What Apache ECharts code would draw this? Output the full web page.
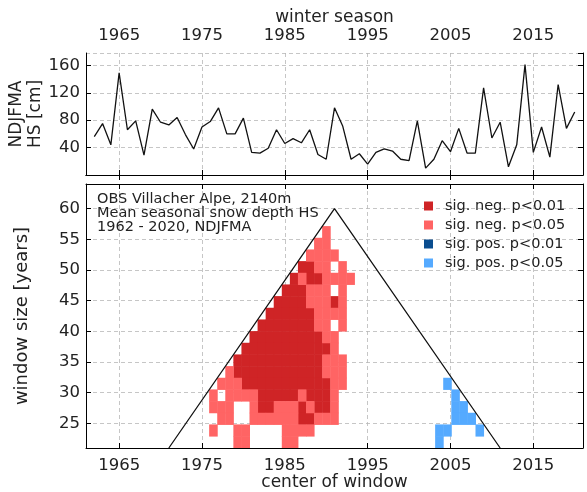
<!DOCTYPE html>
<html>
<head>
<meta charset="utf-8">
<script src="https://cdn.jsdelivr.net/npm/echarts@6/dist/echarts.min.js"></script>
<style>
  html, body { margin: 0; padding: 0; background: #ffffff; }
  #chart { width: 587px; height: 492px; }
</style>
</head>
<body>
<div id="chart"></div>
<script>
// ---- Mean seasonal snow depth (NDJFMA), OBS Villacher Alpe ----
const firstSeason = 1962;
const hsMean = [56, 75, 44, 149, 66, 79, 29, 96, 77, 73, 84, 59, 38, 70, 78, 98, 60, 60, 83, 33,
                32, 39, 66, 46, 53, 47, 66, 30, 23, 98, 71, 23, 31, 16, 33, 38, 35, 23, 21, 79,
                10, 23, 50, 34, 68, 32, 32, 127, 54, 77, 12, 44, 161, 33, 70, 26, 132, 68, 92];

const yearTicks = [1965, 1975, 1985, 1995, 2005, 2015];
const windowTicks = [25, 30, 35, 40, 45, 50, 55, 60];

// ---- Moving-window trend significance, rows: [window size, centre years] ----
const negP01 = [
  [51, [1987, 1988]],
  [49, [1986, 1988, 1989]],
  [47, [1985, 1986, 1987]],
  [45, [1984, 1985, 1986, 1987, 1991]],
  [43, [1983, 1984, 1985, 1986, 1987, 1988]],
  [41, [1982, 1983, 1984, 1985, 1986, 1987, 1988]],
  [39, [1981, 1982, 1983, 1984, 1985, 1986, 1987, 1988, 1989]],
  [37, [1980, 1981, 1982, 1983, 1984, 1985, 1986, 1987, 1988, 1989, 1990]],
  [35, [1979, 1980, 1981, 1982, 1983, 1984, 1985, 1986, 1987, 1988, 1989]],
  [33, [1979, 1980, 1981, 1982, 1983, 1984, 1985, 1986, 1987, 1988, 1989]],
  [31, [1980, 1981, 1982, 1983, 1984, 1985, 1986, 1987, 1988, 1989, 1990]],
  [29, [1982, 1983, 1984, 1985, 1986, 1988, 1989, 1990]],
  [27, [1982, 1983, 1987, 1989, 1990]],
  [25, [1987, 1988]]
];
const negP05 = [
  [57, [1990]],
  [55, [1989, 1990]],
  [53, [1988, 1989, 1990, 1991]],
  [51, [1989, 1990, 1992]],
  [49, [1987, 1990, 1991, 1992, 1993]],
  [47, [1988, 1989, 1990, 1992]],
  [45, [1988, 1989, 1990, 1992]],
  [43, [1989, 1990, 1991, 1992]],
  [41, [1989, 1990, 1992]],
  [39, [1990, 1991]],
  [37, [1991]],
  [35, [1990, 1991, 1992]],
  [33, [1978, 1990, 1991, 1992]],
  [31, [1977, 1978, 1979, 1991, 1992]],
  [29, [1976, 1978, 1979, 1980, 1981, 1987, 1991]],
  [27, [1976, 1977, 1978, 1981, 1984, 1985, 1986, 1988, 1991]],
  [25, [1977, 1978, 1981, 1982, 1983, 1984, 1985, 1986, 1989, 1990, 1991]],
  [23, [1976, 1979, 1980, 1985, 1986, 1987, 1988]],
  [21, [1979, 1980, 1985, 1986]]
];
const posP01 = [];
const posP05 = [
  [31, [2005]],
  [29, [2006]],
  [27, [2006, 2007]],
  [25, [2006, 2007, 2008]],
  [23, [2004, 2005, 2009]],
  [21, [2004]]
];

// outline of the admissible (centre, window) region
const limitCentre = [1971, 1991, 2011];
const limitWindow = [21, 60, 21];

// image extent of the significance raster: 39 centres x 20 window sizes
const raster = { x0: 1972, x1: 2010, y0: 21, y1: 59, firstCentre: 1972, nCentres: 39, firstWindow: 21, nWindows: 20 };
const colStep = (raster.x1 - raster.x0) / raster.nCentres;
const rowStep = (raster.y1 - raster.y0) / raster.nWindows;

function cells(rows) {
  const out = [];
  rows.forEach(([w, centres]) => centres.forEach(c => out.push([c, w])));
  return out;
}

function renderCell(params, api) {
  const c = api.value(0), w = api.value(1);
  const xa = raster.x0 + (c - raster.firstCentre) * colStep;
  const ya = raster.y0 + ((w - raster.firstWindow) / 2) * rowStep;
  const p0 = api.coord([xa, ya + rowStep]);
  const p1 = api.coord([xa + colStep, ya]);
  return {
    type: 'rect',
    shape: { x: p0[0] - 0.25, y: p0[1] - 0.25, width: p1[0] - p0[0] + 0.5, height: p1[1] - p0[1] + 0.5 },
    style: { fill: api.visual('color') }
  };
}

const colors = {
  negP01: '#cf2426',
  negP05: '#ff6464',
  posP01: '#0a4d8f',
  posP05: '#55aaff'
};

const FONT = 'DejaVu Sans';
const grid = '#b8b8b8';
const plain = v => String(v);

const seasonData = hsMean.map((v, i) => [firstSeason + i, v]);

function tickAxis(extra) {
  return Object.assign({
    type: 'value',
    nameMoveOverlap: false,
    axisLine: { show: true, lineStyle: { color: '#000', width: 1 } },
    axisTick: { show: true, inside: true, length: 5, lineStyle: { color: '#000', width: 1 } },
    axisLabel: { show: false },
    splitLine: { show: false }
  }, extra);
}

const option = {
  animation: false,
  backgroundColor: '#ffffff',
  textStyle: { fontFamily: FONT },
  grid: [
    { left: 86, right: 4, top: 53, height: 122, containLabel: false, outerBoundsMode: 'none' },
    { left: 86, right: 4, top: 184, height: 264, containLabel: false, outerBoundsMode: 'none' }
  ],
  legend: {
    orient: 'vertical',
    left: 424, top: 197, padding: 0,
    itemWidth: 9, itemHeight: 9, itemGap: 1,
    icon: 'rect',
    textStyle: { fontFamily: FONT, fontSize: 14.5, color: '#222', lineHeight: 18, padding: [0, 0, 0, 7] },
    data: ['sig. neg. p<0.01', 'sig. neg. p<0.05', 'sig. pos. p<0.01', 'sig. pos. p<0.05']
  },
  xAxis: [
    tickAxis({
      gridIndex: 0, position: 'top', min: 1961, max: 2021,
      name: 'winter season', nameLocation: 'middle', nameGap: 27,
      nameTextStyle: { fontFamily: FONT, fontSize: 17, color: '#222' },
      axisTick: { show: true, inside: true, length: 5, customValues: yearTicks, lineStyle: { color: '#000' } },
      axisLabel: { show: true, customValues: yearTicks, formatter: plain, margin: 9, fontFamily: FONT, fontSize: 16.5, color: '#222' },
      splitLine: { show: true, lineStyle: { color: grid, type: [4, 3], width: 0.8 } }
    }),
    tickAxis({
      gridIndex: 0, position: 'bottom', min: 1961, max: 2021,
      axisTick: { show: true, inside: true, length: 5, customValues: yearTicks, lineStyle: { color: '#000' } }
    }),
    tickAxis({
      gridIndex: 1, position: 'bottom', min: 1961, max: 2021,
      name: 'center of window', nameLocation: 'middle', nameGap: 26,
      nameTextStyle: { fontFamily: FONT, fontSize: 17, color: '#222' },
      axisTick: { show: true, inside: true, length: 5, customValues: yearTicks, lineStyle: { color: '#000' } },
      axisLabel: { show: true, customValues: yearTicks, formatter: plain, margin: 9, fontFamily: FONT, fontSize: 16.5, color: '#222' },
      splitLine: { show: true, lineStyle: { color: grid, type: [4, 3], width: 0.8 } }
    }),
    tickAxis({
      gridIndex: 1, position: 'top', min: 1961, max: 2021,
      axisTick: { show: true, inside: true, length: 5, customValues: yearTicks, lineStyle: { color: '#000' } }
    })
  ],
  yAxis: [
    tickAxis({
      gridIndex: 0, position: 'left', min: 0, max: 178, interval: 40,
      name: 'NDJFMA\nHS [cm]', nameLocation: 'middle', nameGap: 41, nameRotate: 90,
      nameTextStyle: { fontFamily: FONT, fontSize: 17, color: '#222', lineHeight: 19 },
      axisLabel: { show: true, showMinLabel: false, margin: 6, fontFamily: FONT, fontSize: 16.5, color: '#222' },
      splitLine: { show: true, lineStyle: { color: grid, type: [4, 3], width: 0.8 } }
    }),
    tickAxis({ gridIndex: 0, position: 'right', min: 0, max: 178, interval: 40 }),
    tickAxis({
      gridIndex: 1, position: 'left', min: 21, max: 64,
      name: 'window size [years]', nameLocation: 'middle', nameGap: 55, nameRotate: 90,
      nameTextStyle: { fontFamily: FONT, fontSize: 18, color: '#222' },
      axisTick: { show: true, inside: true, length: 5, customValues: windowTicks, lineStyle: { color: '#000' } },
      axisLabel: { show: true, customValues: windowTicks, formatter: plain, margin: 6, fontFamily: FONT, fontSize: 16.5, color: '#222' },
      splitLine: { show: true, lineStyle: { color: grid, type: [4, 3], width: 0.8 } }
    }),
    tickAxis({
      gridIndex: 1, position: 'right', min: 21, max: 64,
      axisTick: { show: true, inside: true, length: 5, customValues: windowTicks, lineStyle: { color: '#000' } }
    })
  ],
  series: [
    {
      type: 'line', xAxisIndex: 0, yAxisIndex: 0,
      data: seasonData, showSymbol: false, symbol: 'none',
      lineStyle: { color: '#111', width: 1.3 }
    },
    {
      name: 'sig. neg. p<0.01', type: 'custom', xAxisIndex: 2, yAxisIndex: 2,
      renderItem: renderCell, data: cells(negP01), itemStyle: { color: colors.negP01 }, clip: true
    },
    {
      name: 'sig. neg. p<0.05', type: 'custom', xAxisIndex: 2, yAxisIndex: 2,
      renderItem: renderCell, data: cells(negP05), itemStyle: { color: colors.negP05 }, clip: true
    },
    {
      name: 'sig. pos. p<0.01', type: 'custom', xAxisIndex: 2, yAxisIndex: 2,
      renderItem: renderCell, data: cells(posP01), itemStyle: { color: colors.posP01 }, clip: true
    },
    {
      name: 'sig. pos. p<0.05', type: 'custom', xAxisIndex: 2, yAxisIndex: 2,
      renderItem: renderCell, data: cells(posP05), itemStyle: { color: colors.posP05 }, clip: true
    },
    {
      type: 'line', xAxisIndex: 2, yAxisIndex: 2,
      data: limitCentre.map((c, i) => [c, limitWindow[i]]),
      showSymbol: false, symbol: 'none', z: 5,
      lineStyle: { color: '#111', width: 1.3 }
    }
  ],
  graphic: [
    {
      type: 'text', left: 97, top: 192, z: 10,
      style: {
        text: 'OBS Villacher Alpe, 2140m\nMean seasonal snow depth HS\n1962 - 2020, NDJFMA',
        fontFamily: FONT, fontSize: 14.5, lineHeight: 14, fill: '#222'
      }
    }
  ]
};

const chart = echarts.init(document.getElementById('chart'), null, { renderer: 'canvas' });
chart.setOption(option);
</script>
</body>
</html>
